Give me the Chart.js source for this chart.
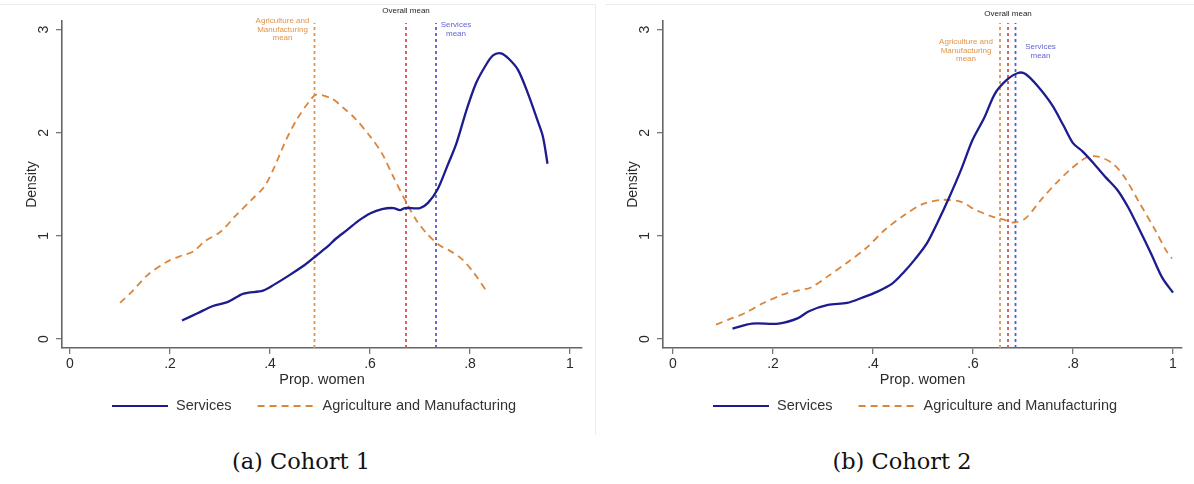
<!DOCTYPE html>
<html>
<head>
<meta charset="utf-8">
<script src="https://cdn.jsdelivr.net/npm/chart.js@4.4.1/dist/chart.umd.min.js"></script>
<style>
body{margin:0;background:#fff;width:1194px;height:484px;overflow:hidden;position:relative}
.panel{position:absolute;top:0;height:440px}
#p1{left:0;width:597px}
#p2{left:601px;width:593px}
.frame{position:absolute;top:4px;height:430px;border-top:1px solid #ececec}
#f1{left:0;width:595px;border-right:1px solid #ececec}
#f2{left:605px;width:589px}
.cap{position:absolute;top:448px;line-height:26px;font-family:"DejaVu Serif",serif;font-size:22.5px;color:#111;text-align:center;width:300px}
</style>
</head>
<body>
<div class="frame" id="f1"></div>
<div class="frame" id="f2"></div>
<div class="panel" id="p1"><canvas id="c1" width="597" height="440"></canvas></div>
<div class="panel" id="p2"><canvas id="c2" width="593" height="440"></canvas></div>
<div class="cap" style="left:151px">(a) Cohort 1</div>
<div class="cap" style="left:752px">(b) Cohort 2</div>
<script>
// tick values and labels
var xTicks = [0, 0.2, 0.4, 0.6, 0.8, 1];
var xTickLabels = ['0', '.2', '.4', '.6', '.8', '1'];
var yTicks = [0, 1, 2, 3];
var seriesNames = ['Services', 'Agriculture and Manufacturing'];

// cohort 1 densities
var c1ServX = [0.224,0.255,0.286,0.316,0.347,0.386,0.409,0.439,0.47,0.493,0.516,0.531,0.555,0.578,0.601,0.624,0.647,0.66,0.67,0.70,0.716,0.735,0.754,0.773,0.793,0.812,0.831,0.846,0.862,0.877,0.896,0.916,0.935,0.946,0.955];
var c1ServY = [0.18,0.25,0.32,0.36,0.44,0.47,0.53,0.62,0.72,0.81,0.90,0.97,1.06,1.15,1.22,1.26,1.27,1.25,1.27,1.27,1.32,1.45,1.67,1.90,2.22,2.48,2.65,2.75,2.77,2.72,2.61,2.38,2.12,1.96,1.70];
var c1AgX = [0.10,0.124,0.155,0.194,0.224,0.247,0.27,0.301,0.332,0.363,0.389,0.409,0.432,0.455,0.478,0.493,0.524,0.547,0.57,0.601,0.624,0.647,0.67,0.693,0.716,0.739,0.762,0.785,0.808,0.835];
var c1AgY = [0.35,0.46,0.62,0.75,0.81,0.85,0.95,1.04,1.20,1.35,1.48,1.67,1.93,2.14,2.30,2.37,2.33,2.24,2.14,1.96,1.80,1.57,1.35,1.15,1.01,0.91,0.85,0.77,0.64,0.45];
// means: agriculture & manufacturing, overall, services
var c1Means = [0.489, 0.672, 0.732];

// cohort 2 densities
var c2ServX = [0.119,0.158,0.211,0.249,0.272,0.31,0.348,0.378,0.409,0.439,0.462,0.485,0.508,0.53,0.553,0.576,0.599,0.622,0.644,0.667,0.69,0.705,0.728,0.758,0.781,0.80,0.819,0.842,0.865,0.888,0.91,0.933,0.956,0.979,1.0];
var c2ServY = [0.10,0.15,0.15,0.20,0.27,0.33,0.35,0.40,0.46,0.54,0.65,0.78,0.93,1.14,1.38,1.64,1.93,2.14,2.38,2.51,2.58,2.57,2.46,2.27,2.07,1.90,1.82,1.70,1.57,1.45,1.28,1.06,0.83,0.59,0.45];
var c2AgX = [0.086,0.112,0.143,0.181,0.219,0.249,0.276,0.31,0.348,0.386,0.424,0.462,0.50,0.538,0.576,0.606,0.637,0.66,0.682,0.705,0.736,0.766,0.796,0.827,0.85,0.88,0.903,0.933,0.964,0.986,0.998];
var c2AgY = [0.14,0.19,0.25,0.35,0.43,0.47,0.50,0.61,0.74,0.88,1.06,1.20,1.31,1.35,1.33,1.25,1.19,1.16,1.13,1.17,1.35,1.51,1.65,1.76,1.77,1.70,1.57,1.32,1.06,0.86,0.78];
var c2Means = [0.654, 0.670, 0.685];

var meanLineTop = 3.065;
var yMin = -0.087, yMax = 3.084;

var NAVY = '#1c1c8f', ORANGE = '#d9853b';
var FONT = '"Liberation Sans", Arial, sans-serif';
var TXT = '#2a2a2a';

function pts(xs, ys) {
  return xs.map(function (x, i) { return {x: x, y: ys[i]}; });
}

var meanLabels = {
  id: 'meanLabels',
  afterDraw: function (chart, args, o) {
    var ctx = chart.ctx, xs = chart.scales.x, ca = chart.chartArea;
    ctx.save();
    ctx.font = '8px ' + FONT;
    ctx.textBaseline = 'middle';
    ctx.textAlign = 'center';
    var ax = xs.getPixelForValue(o.means[0]);
    var ox = xs.getPixelForValue(o.means[1]);
    var sx = xs.getPixelForValue(o.means[2]);
    ctx.fillStyle = '#222';
    ctx.fillText('Overall mean', ox, o.overallY);
    ctx.fillStyle = '#e0954a';
    ['Agriculture and', 'Manufacturing', 'mean'].forEach(function (t, i) {
      ctx.fillText(t, ax + o.agDx, o.agY + i * 8.6);
    });
    ctx.fillStyle = '#6464d4';
    ['Services', 'mean'].forEach(function (t, i) {
      ctx.fillText(t, sx + o.servDx, o.servY + i * 8.6);
    });
    // legend
    var ly = 406, x0 = ca.left + 50;
    ctx.font = '14.5px ' + FONT;
    ctx.textAlign = 'left';
    ctx.fillStyle = '#333';
    ctx.lineWidth = 2.2;
    ctx.strokeStyle = NAVY;
    ctx.beginPath(); ctx.moveTo(x0, ly); ctx.lineTo(x0 + 56, ly); ctx.stroke();
    ctx.fillText(seriesNames[0], x0 + 64, ly);
    var x1 = x0 + 64 + ctx.measureText(seriesNames[0]).width + 26;
    ctx.strokeStyle = ORANGE;
    ctx.lineWidth = 1.8;
    ctx.setLineDash([7, 5]);
    ctx.beginPath(); ctx.moveTo(x1, ly); ctx.lineTo(x1 + 57, ly); ctx.stroke();
    ctx.setLineDash([]);
    ctx.fillText(seriesNames[1], x1 + 65, ly);
    ctx.restore();
  }
};

function makeChart(id, servX, servY, agX, agY, means, xMin, xMax, padRight, lab) {
  var meanColors = ['#e0954a', '#d9534f', '#5b5bd0'];
  var meanSets = means.map(function (m, i) {
    return {
      data: [{x: m, y: yMin}, {x: m, y: meanLineTop}],
      borderColor: meanColors[i], borderWidth: 1.8, borderDash: [3, 3],
      pointRadius: 0, order: 2
    };
  });
  lab.means = means;
  return new Chart(document.getElementById(id), {
    type: 'line',
    data: {
      datasets: [
        {label: seriesNames[0], data: pts(servX, servY), borderColor: NAVY, borderWidth: 2.3, pointRadius: 0, tension: 0.3, order: 0},
        {label: seriesNames[1], data: pts(agX, agY), borderColor: ORANGE, borderWidth: 1.8, borderDash: [7, 5], pointRadius: 0, tension: 0.3, order: 1}
      ].concat(meanSets)
    },
    options: {
      responsive: false, animation: false, devicePixelRatio: 1,
      layout: {padding: {top: 21, bottom: 51, left: 0, right: padRight}},
      plugins: {legend: {display: false}, tooltip: {enabled: false}, meanLabels: lab},
      scales: {
        x: {
          type: 'linear', min: xMin, max: xMax,
          afterBuildTicks: function (s) { s.ticks = xTicks.map(function (v) { return {value: v}; }); },
          afterFit: function (s) { s.height = 41; },
          ticks: {
            font: {family: FONT, size: 14}, color: TXT, padding: 2, maxRotation: 0,
            callback: function (v) { return xTickLabels[xTicks.indexOf(v)]; }
          },
          grid: {drawOnChartArea: false, drawTicks: true, tickLength: 6, color: '#777', lineWidth: 1.3},
          border: {display: true, color: '#666', width: 1.6},
          title: {display: true, text: 'Prop. women', font: {family: FONT, size: 14.5}, color: TXT, padding: {top: 0, bottom: 0}}
        },
        y: {
          type: 'linear', min: yMin, max: yMax,
          afterBuildTicks: function (s) { s.ticks = yTicks.map(function (v) { return {value: v}; }); },
          afterFit: function (s) { s.width = 62; },
          ticks: {
            font: {family: FONT, size: 14}, color: TXT, padding: 8,
            minRotation: 90, maxRotation: 90, crossAlign: 'center'
          },
          grid: {drawOnChartArea: false, drawTicks: true, tickLength: 6, color: '#777', lineWidth: 1.3},
          border: {display: true, color: '#666', width: 1.6},
          title: {display: true, text: 'Density', font: {family: FONT, size: 14}, color: TXT, padding: {top: 24, bottom: 0}}
        }
      }
    },
    plugins: [meanLabels]
  });
}

makeChart('c1', c1ServX, c1ServY, c1AgX, c1AgY, c1Means, -0.016, 1.024, 15,
  {overallY: 11, agDx: -32, agY: 21, servDx: 20, servY: 25});
makeChart('c2', c2ServX, c2ServY, c2AgX, c2AgY, c2Means, -0.02, 1.018, 12,
  {overallY: 14, agDx: -34, agY: 42, servDx: 25, servY: 47});
</script>
</body>
</html>
